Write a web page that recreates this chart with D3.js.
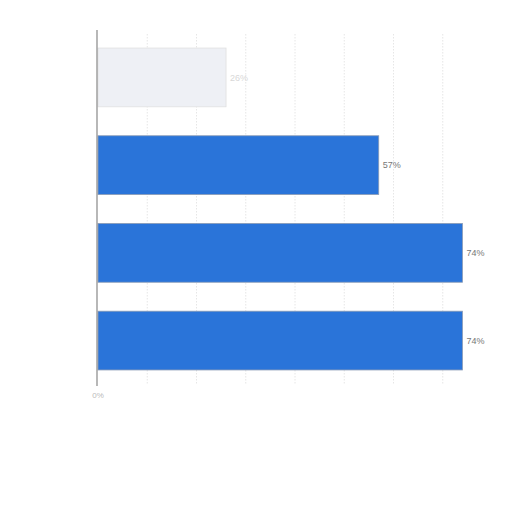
<!DOCTYPE html>
<html>
<head>
<meta charset="utf-8">
<script src="https://cdn.jsdelivr.net/npm/d3@7"></script>
<style>
  body { margin: 0; background: #fff; }
  text { font-family: "Liberation Sans", Arial, sans-serif; }
</style>
</head>
<body>
<div id="chart"></div>
<script>
const categories = ["Row 1", "Row 2", "Row 3", "Row 4"];
const values = [26, 57, 74, 74];
const gridTicks = [10, 20, 30, 40, 50, 60, 70];
const axisTicks = [0];

const width = 512;
const height = 512;

const svg = d3.select("#chart")
    .append("svg")
    .attr("width", width)
    .attr("height", height);

const x = d3.scaleLinear()
    .domain([0, 80])
    .range([98, 492]);

const y = d3.scaleBand()
    .domain(categories)
    .range([34, 384])
    .paddingInner(0.33)
    .paddingOuter(0.16);

// dotted gridlines
svg.append("g")
    .selectAll("line")
    .data(gridTicks)
    .join("line")
    .attr("x1", d => x(d))
    .attr("x2", d => x(d))
    .attr("y1", 34)
    .attr("y2", 384)
    .attr("stroke", "#e0e0e0")
    .attr("stroke-width", 0.8)
    .attr("stroke-dasharray", "1.5,1.5");

// bars
svg.append("g")
    .selectAll("rect")
    .data(values)
    .join("rect")
    .attr("x", x(0))
    .attr("y", (d, i) => y(categories[i]))
    .attr("width", d => x(d) - x(0))
    .attr("height", y.bandwidth())
    .attr("fill", (d, i) => i === 0 ? "#eef0f5" : "#2a74d9")
    .attr("stroke", (d, i) => i === 0 ? "#e0e0e0" : "#8a9bb5")
    .attr("stroke-width", 0.8);

// value labels
svg.append("g")
    .selectAll("text")
    .data(values)
    .join("text")
    .attr("x", d => x(d) + 4)
    .attr("y", (d, i) => y(categories[i]) + y.bandwidth() / 2)
    .attr("dy", "0.35em")
    .style("font-size", "9px")
    .attr("fill", (d, i) => i === 0 ? "#d8d8d8" : "#777")
    .text(d => d + "%");

// y axis line
svg.append("line")
    .attr("x1", 97)
    .attr("x2", 97)
    .attr("y1", 30)
    .attr("y2", 386)
    .attr("stroke", "#888")
    .attr("stroke-width", 1.2);

// x tick labels
svg.append("g")
    .selectAll("text")
    .data(axisTicks)
    .join("text")
    .attr("x", d => x(d))
    .attr("y", 398)
    .attr("text-anchor", "middle")
    .style("font-size", "8px")
    .attr("fill", "#bbb")
    .text(d => d + "%");
</script>
</body>
</html>
